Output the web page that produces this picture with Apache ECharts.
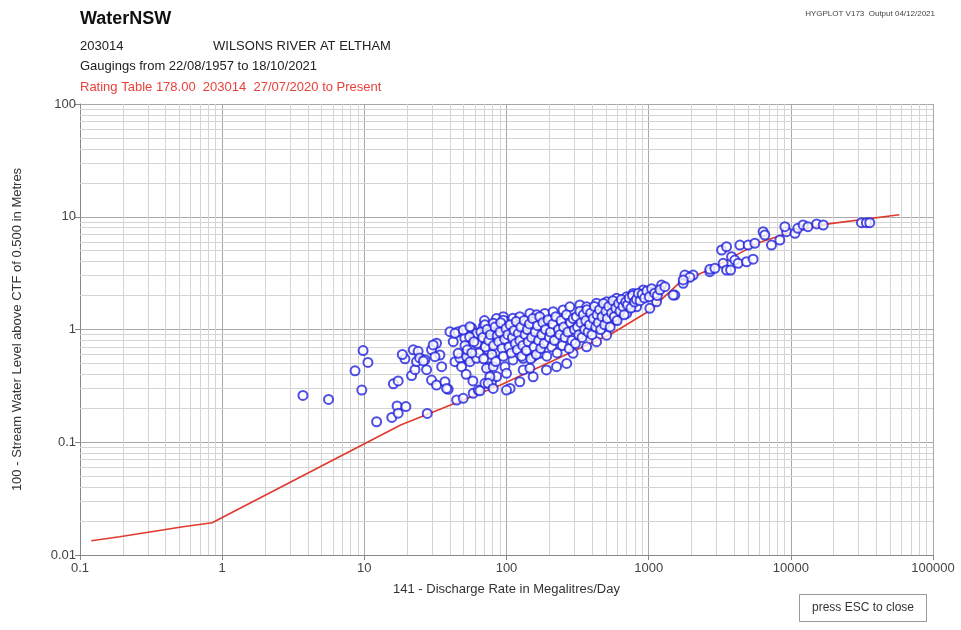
<!DOCTYPE html>
<html>
<head>
<meta charset="utf-8">
<title>WaterNSW 203014 rating</title>
<script src="https://cdn.jsdelivr.net/npm/echarts@6/dist/echarts.min.js"></script>
<style>
  html, body { margin: 0; padding: 0; background: #fff; }
  #chart { width: 961px; height: 630px; }
</style>
</head>
<body>
<div id="chart"></div>
<script>
// rating table 178.00 (discharge ML/d, level m)
var ratingQ = [0.12, 0.19, 0.31, 0.53, 0.85, 18, 90, 560, 1000, 1650, 2800, 6000, 10000, 17800, 58000];
var ratingH = [0.0134, 0.0145, 0.016, 0.0178, 0.0193, 0.142, 0.32, 0.93, 1.45, 2.6, 3.5, 5.9, 7.3, 8.6, 10.4];

// gaugings 22/08/1957 - 18/10/2021 : [discharge, level]
var gaugings = [
  [3.7,0.26],[5.6,0.24],[8.6,0.43],[9.6,0.29],[9.8,0.65],[10.6,0.51],[12.2,0.152],
  [15.6,0.166],[16.0,0.33],[17.0,0.21],[17.3,0.35],[17.3,0.181],[19.3,0.55],[19.6,0.207],
  [21.5,0.39],[22.1,0.66],[22.7,0.44],[23.3,0.52],[23.9,0.64],[18.5,0.6],[24.5,0.56],
  [26.7,0.54],[27.4,0.44],[27.7,0.18],[29.7,0.66],[29.7,0.356],[32.2,0.755],[32.2,0.322],
  [34.0,0.594],[35.0,0.468],[36.9,0.344],[38.9,0.295],[42.2,0.78],[43.4,0.518],[40.0,0.957],
  [45.7,0.957],[47.0,0.558],[48.3,0.468],[53.8,0.544],[50.9,0.836],[56.9,1.03],[60.0,0.863],
  [44.6,0.237],[49.6,0.245],[58.3,0.272],[63.2,0.29],
  [30.5,0.73],[31.4,0.574],[26.0,0.526],[37.9,0.30],[45.7,0.615],[52.4,0.574],[55.3,0.518],
  [61.6,0.556],[43.4,0.925],[49.6,0.99],[55.3,1.06],[61.6,0.925],[68.6,1.06],[76.4,0.99],
  [82.8,1.13],[74.3,0.658],[76.4,0.468],[85.2,0.635],[70.5,0.333],[78.5,0.345],[85.2,0.382],
  [65,0.286],[70,1.2],[95,1.3],[85,1.25],
  [70.5,1.10],[80.6,1.135],[94.8,1.21],[111,1.26],[124,1.30],[146,1.39],[163,1.35],[186,1.39],
  [213,1.44],[250,1.49],[279,1.59],[328,1.65],[366,1.59],[430,1.71],[506,1.76],[595,1.89],
  [700,1.95],[778,2.09],[915,2.24],[1076,2.16],[1233,2.48],[1528,2.02],[1750,2.57],[1897,2.94],
  [2056,3.04],[2692,3.26],
  [106,0.30],[124,0.344],[154,0.381],[191,0.438],[225,0.468],[265,0.50],[294,0.615],[366,0.703],
  [430,0.78],[506,0.89],[578,1.21],[700,1.39],[822,1.59],[1019,1.54],[1136,1.76],[1486,2.02],
  [72.4,0.453],[80.6,0.468],[76.4,0.381],[97.5,0.468],[111,0.537],[131,0.556],[154,0.574],
  [172,0.615],[100,0.409],[131,0.438],[146,0.453],[74.3,0.333],[80.6,0.30],[100,0.29],
  [62,0.75],[64,0.62],[66,0.95],[68,0.85],[69,0.55],[71,0.7],[73,1.0],[75,0.8],[77,0.9],
  [79,0.6],[81,0.72],[83,1.05],[84,0.52],[86,0.88],[88,0.78],[90,0.95],[91,1.15],[93,0.68],
  [95,0.58],[97,0.82],[99,1.02],[102,0.9],[104,0.7],[106,1.1],[108,0.62],[110,0.85],[113,0.98],
  [115,0.75],[117,1.18],[119,0.66],[121,0.92],[124,0.8],[126,1.05],[128,0.58],[130,0.72],
  [51,0.72],[53,0.66],[55,0.86],[57,0.62],[59,0.78],[52,0.4],[58,0.35],
  [133,1.2],[135,0.9],[138,0.65],[140,1.0],[142,0.78],[145,1.12],[148,0.55],[150,0.85],
  [153,1.25],[156,0.7],[159,0.95],[162,0.6],[165,1.08],[168,0.8],[171,1.3],[174,0.68],
  [177,0.9],[180,1.15],[184,0.75],[188,1.0],[192,0.58],[196,1.22],[200,0.85],[204,0.95],
  [208,0.7],[212,1.12],[217,0.8],[222,1.3],[227,0.62],[232,1.0],[237,0.9],[242,1.2],
  [247,0.72],[252,1.05],[258,0.85],[264,1.35],[270,0.95],[276,0.68],[282,1.15],[288,0.8],
  [294,1.25],[300,1.0],
  [305,0.75],[310,1.3],[316,1.05],[322,0.9],[328,1.45],[334,1.15],[340,0.85],[347,1.35],
  [354,1.0],[361,1.2],[368,1.5],[375,0.95],[383,1.1],[391,1.4],[399,0.9],[407,1.25],
  [415,1.6],[424,1.05],[433,1.35],[442,1.15],[451,1.5],[460,1.0],[470,1.3],[480,1.7],
  [490,1.1],[500,1.45],[512,1.25],[524,1.6],[536,1.05],[548,1.4],[560,1.8],[573,1.3],
  [586,1.55],[600,1.2],[614,1.7],[628,1.45],[643,1.85],[658,1.6],[673,1.35],[690,1.75],
  [710,1.65],[730,1.9],[750,1.55],[770,2.0],[795,1.75],[820,1.85],[845,2.1],[870,1.8],
  [900,2.05],[935,1.9],[970,2.2],[1010,1.95],[1050,2.3],[1100,2.1],[1150,2.0],[1200,2.25],[1300,2.4],
  [1797,3.04],[1950,2.90],[1750,2.75],[2692,3.42],[2922,3.49],[3340,3.86],[3530,3.37],[3770,3.37],
  [3260,5.07],[3530,5.42],[3830,4.42],[4040,4.13],[4380,5.61],[4260,3.86],[4880,3.99],[5010,5.61],
  [5580,5.82],[5430,4.20],[6380,7.37],[6560,6.89],[7310,5.61],[8370,6.22],[9330,7.37],[9080,8.16],
  [10700,7.13],[11200,7.90],[12200,8.45],[13200,8.16],[15200,8.63],[16900,8.45],
  [31400,8.85],[34000,8.85],[35900,8.85]
];

var xDecades = [0.1, 1, 10, 100, 1000, 10000];
var yDecades = [0.01, 0.1, 1, 10];

var ratingData = ratingQ.map(function (q, i) { return [q, ratingH[i]]; });

// minor grid lines 2..9 in every decade
var minorLines = [];
xDecades.forEach(function (d) {
  for (var m = 2; m <= 9; m++) minorLines.push({ xAxis: +(d * m).toPrecision(3) });
});
yDecades.forEach(function (d) {
  for (var m = 2; m <= 9; m++) minorLines.push({ yAxis: +(d * m).toPrecision(3) });
});

var font = 'Liberation Sans, Arial, sans-serif';
function logLabel(v) { return String(+v.toPrecision(6)); }

var chart = echarts.init(document.getElementById('chart'));
var option = {
  animation: false,
  backgroundColor: '#fff',
  textStyle: { fontFamily: font },
  grid: { left: 80, right: 28, top: 104, bottom: 75 },
  graphic: [
    { type: 'text', left: 80, top: 10, style: { text: 'WaterNSW', font: 'bold 18px ' + font, fill: '#111' } },
    { type: 'text', left: 80, top: 40, style: { text: '203014', font: '13px ' + font, fill: '#222' } },
    { type: 'text', left: 213, top: 40, style: { text: 'WILSONS RIVER AT ELTHAM', font: '13px ' + font, fill: '#222' } },
    { type: 'text', left: 80, top: 60, style: { text: 'Gaugings from 22/08/1957 to 18/10/2021', font: '13px ' + font, fill: '#222' } },
    { type: 'text', left: 80, top: 81, style: { text: 'Rating Table 178.00  203014  27/07/2020 to Present', font: '13px ' + font, fill: '#e8413c' } },
    { type: 'text', right: 26, top: 10, style: { text: 'HYGPLOT V173  Output 04/12/2021', font: '8px ' + font, fill: '#444' } },
    {
      type: 'group', left: 799, top: 594,
      children: [
        { type: 'rect', shape: { x: 0, y: 0, width: 127, height: 27 }, style: { fill: '#fff', stroke: '#999', lineWidth: 1 } },
        { type: 'text', x: 63.5, y: 13.5, style: { text: 'press ESC to close', font: '12px ' + font, fill: '#333', align: 'center', verticalAlign: 'middle' } }
      ]
    }
  ],
  xAxis: {
    type: 'log', logBase: 10, min: 0.1, max: 100000,
    name: '141 - Discharge Rate in Megalitres/Day',
    nameLocation: 'middle', nameGap: 28,
    nameTextStyle: { fontSize: 13, color: '#333', fontFamily: font },
    axisLine: { lineStyle: { color: '#888' } },
    axisTick: { show: true, length: 5, lineStyle: { color: '#888' } },
    axisLabel: { fontSize: 13, color: '#444', margin: 7, formatter: logLabel, fontFamily: font },
    splitLine: { show: true, lineStyle: { color: '#a8a8a8', width: 1 } }
  },
  yAxis: {
    type: 'log', logBase: 10, min: 0.01, max: 100,
    name: '100 - Stream Water Level above CTF of 0.500 in Metres',
    nameLocation: 'middle', nameGap: 56, nameRotate: 90,
    nameTextStyle: { fontSize: 13, color: '#333', fontFamily: font },
    axisLine: { show: true, lineStyle: { color: '#888' } },
    axisTick: { show: true, length: 5, lineStyle: { color: '#888' } },
    axisLabel: { fontSize: 13, color: '#444', margin: 4, formatter: logLabel, fontFamily: font },
    splitLine: { show: true, lineStyle: { color: '#a8a8a8', width: 1 } }
  },
  series: [
    {
      name: 'grid',
      type: 'line',
      data: [],
      silent: true,
      z: 1,
      markLine: {
        silent: true,
        z: 1,
        symbol: ['none', 'none'],
        label: { show: false },
        emphasis: { disabled: true },
        lineStyle: { color: '#d4d4d4', width: 1, type: 'solid' },
        data: minorLines
      }
    },
    {
      name: 'Rating 178.00',
      type: 'line',
      data: ratingData,
      showSymbol: false,
      z: 3,
      lineStyle: { color: '#e03a2e', width: 1.6 }
    },
    {
      name: 'Gaugings',
      type: 'scatter',
      data: gaugings,
      symbol: 'emptyCircle',
      symbolSize: 9,
      z: 4,
      itemStyle: { color: '#2222dd', borderColor: '#2222dd', borderWidth: 1.8 }
    }
  ]
};
chart.setOption(option);
</script>
</body>
</html>
